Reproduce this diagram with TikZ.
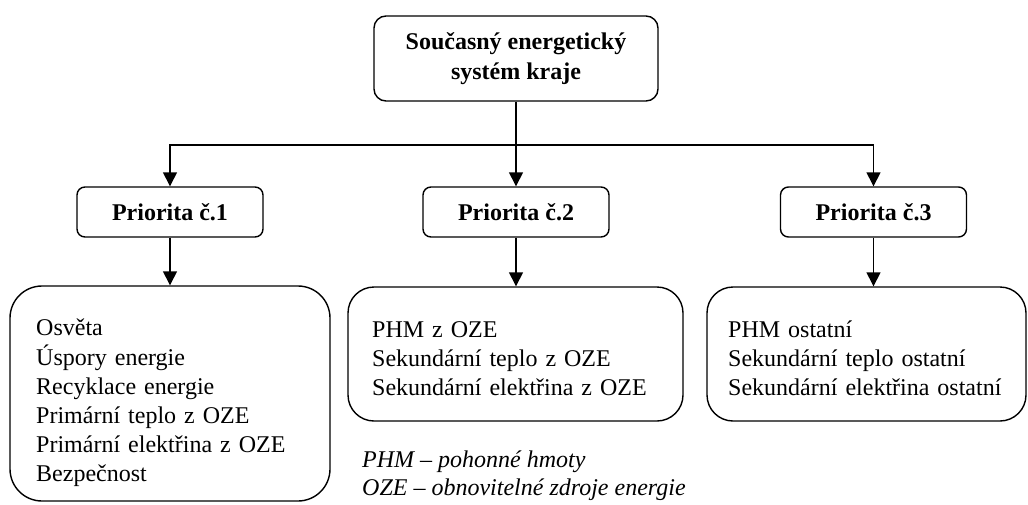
\documentclass[tikz,border=0pt]{standalone}
\usepackage{fontspec}
\setmainfont{Liberation Serif}
\usetikzlibrary{arrows.meta,positioning,calc}
\begin{document}
\begin{tikzpicture}[x=1pt,y=-1pt,
  box/.style={draw,line width=1.4pt,rounded corners=#1,inner sep=0pt},
  topbox/.style={box=12pt,minimum width=284pt,minimum height=85pt,align=center,
    font=\fontsize{24}{30}\selectfont\bfseries},
  priobox/.style={box=8pt,minimum width=186pt,minimum height=50pt,
    font=\fontsize{24}{30}\selectfont\bfseries},
  listbox/.style={draw,line width=1.4pt,rounded corners=#1,inner sep=0pt},
  listtext/.style={anchor=north west,inner sep=0pt,align=left,text width=#1,
    font=\fontsize{24}{29}\selectfont},
  arr/.style={line width=1.4pt,-{Triangle[width=14pt,length=14pt]}},
  legend/.style={align=left,inner sep=0pt,font=\fontsize{24}{28}\selectfont\itshape}
]
\useasboundingbox (0,0) rectangle (1028,504);
\node[topbox] (top) at (516,58.5) {Současný energetický\\systém kraje};
\coordinate (hl) at (0,145);
\node[priobox] (p1) at (170,212) {Priorita č.1};
\node[priobox] (p2) at (516,212) {Priorita č.2};
\node[priobox] (p3) at (873.5,212) {Priorita č.3};
\node[listbox=32pt,minimum width=320pt,minimum height=215pt] (b1) at (170,393.5) {};
\node[listbox=26pt,minimum width=335pt,minimum height=134pt] (b2) at (515.5,354) {};
\node[listbox=26pt,minimum width=319pt,minimum height=134pt] (b3) at (866.5,354) {};
\node[listtext=290pt] (t1) at (36,314.7)
  {\strut Osvěta\\Úspory energie\\Recyklace energie\\Primární teplo z OZE\\Primární elektřina z OZE\\Bezpečnost};
\node[listtext=305pt] (t2) at (372,316.7)
  {\strut PHM z OZE\\Sekundární teplo z OZE\\Sekundární elektřina z OZE};
\node[listtext=295pt] (t3) at (728,316.7)
  {\strut PHM ostatní\\Sekundární teplo ostatní\\Sekundární elektřina ostatní};
\node[legend,anchor=north west] (lg) at (362,451)
  {PHM – pohonné hmoty\\OZE – obnovitelné zdroje energie};
\draw[arr] (top.south) -- (p2.north);
\draw[arr] (top.south |- hl) -| (p1.north);
\draw[arr] (top.south |- hl) -| (p3.north);
\draw[arr] (p1.south) -- (b1.north);
\draw[arr] (p2.south) -- (p2.south |- b2.north);
\draw[arr] (p3.south) -- (p3.south |- b3.north);
\end{tikzpicture}
\end{document}
